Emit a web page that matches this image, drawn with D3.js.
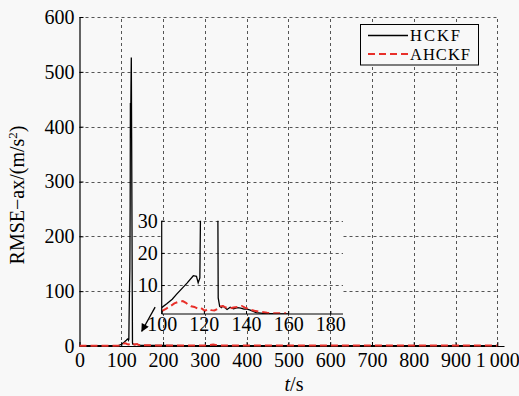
<!DOCTYPE html>
<html>
<head>
<meta charset="utf-8">
<script src="https://cdn.jsdelivr.net/npm/d3@7"></script>
<style>
  html, body { margin: 0; padding: 0; background: #f8f8f8; }
  svg { display: block; font-family: "Liberation Serif", "Times New Roman", serif; }
</style>
</head>
<body>
<svg id="chart" width="519" height="396"></svg>
<script>
// RMSE of the x-axis acceleration estimate, HCKF vs AHCKF
const tHckf = [0, 20, 40, 60, 80, 93, 96, 100, 102.4, 105, 107, 110, 112, 115, 116.5, 117.3, 118.1,
  118.6, 119.5, 120.5, 121.3, 121.8, 122.4, 123.2, 124, 124.8, 125.6, 126.3, 126.8, 127.5, 128.4,
  129, 131, 132.5, 134, 136, 137.5, 139, 140.2, 142, 144.9, 148, 152.8, 156, 160,
  200, 250, 300, 400, 500, 600, 700, 800, 900, 1000];
const hckf = [0.6, 0.5, 0.6, 0.5, 0.6, 0.8, 1.8, 3.0, 4.2, 5.6, 7.1, 9.2, 10.6, 12.9, 12.7, 10.7, 12.2,
  45, 95, 140, 260, 443, 390, 470, 526, 380, 230, 90, 6, 3.4, 3.0,
  3.5, 2.4, 3.1, 2.6, 3.0, 2.8, 2.5, 2.6, 2.2, 1.4, 1.2, 1.1, 1.0, 1.0,
  0.9, 0.8, 0.8, 0.7, 0.7, 0.7, 0.7, 0.7, 0.7, 0.7];

const tAhckf = [0, 20, 40, 60, 80, 95, 100, 102, 104, 106, 108, 110, 111.5, 112.6, 114, 115.5, 117,
  118.5, 120.5, 122, 123.5, 125, 126.5, 127.6, 129, 130.5, 132.3, 134, 136, 138, 139.5, 141.7,
  144, 146.5, 150, 153, 156, 159, 200, 250, 300, 320, 335, 400, 500, 600, 700, 800, 900, 1000];
const ahckf = [0.6, 0.5, 0.5, 0.6, 0.6, 1.0, 1.9, 2.6, 3.4, 4.3, 4.8, 5.0, 4.5, 3.9, 3.4, 3.2, 2.7,
  2.9, 2.0, 2.6, 2.2, 2.1, 2.6, 3.3, 3.5, 3.0, 2.7, 3.0, 3.2, 3.5, 3.0, 2.4,
  2.0, 1.7, 1.4, 1.2, 1.2, 1.2, 1.0, 0.9, 1.0, 2.5, 1.0, 0.9, 0.9, 0.9, 0.9, 0.9, 0.9, 0.9];

const xTicks = [0, 100, 200, 300, 400, 500, 600, 700, 800, 900, 1000];
const xTickLabels = ["0", "100", "200", "300", "400", "500", "600", "700", "800", "900", "1\u2009000"];
const yTicks = [0, 100, 200, 300, 400, 500, 600];

const insetXTicks = [100, 120, 140, 160, 180];
const insetYTicks = [10, 20, 30];

const seriesNames = ["HCKF", "AHCKF"];
const arrowFrom = [181, 71];
const arrowTo = [149, 27];

const bg = "#f8f8f8";
const gridColor = "#555";
const redColor = "#e8302a";
const tickFont = 20;

const svg = d3.select("#chart");

// Main axes
const x = d3.scaleLinear().domain([0, 1016]).range([79.5, 504]);
const y = d3.scaleLinear().domain([0, 600]).range([346, 17]);

const grid = svg.append("g").attr("stroke", gridColor).attr("stroke-width", 1)
  .attr("stroke-dasharray", "3,3").attr("fill", "none");
grid.selectAll(".gx").data(xTicks.slice(1)).join("line")
  .attr("x1", d => Math.round(x(d)) + 0.5).attr("x2", d => Math.round(x(d)) + 0.5)
  .attr("y1", y(0)).attr("y2", y(600));
grid.selectAll(".gy").data(yTicks.slice(1)).join("line")
  .attr("x1", x(0)).attr("x2", x(1000))
  .attr("y1", d => Math.round(y(d)) + 0.5).attr("y2", d => Math.round(y(d)) + 0.5);

const xAxis = d3.axisBottom(x).tickValues(xTicks).tickFormat((d, i) => xTickLabels[i])
  .tickSizeInner(-4).tickSizeOuter(0).tickPadding(7);
const yAxis = d3.axisLeft(y).tickValues(yTicks).tickSizeInner(-4).tickSizeOuter(0).tickPadding(5);

const gx = svg.append("g").attr("transform", `translate(0,${y(0)})`).call(xAxis);
const gy = svg.append("g").attr("transform", `translate(${x(0)},0)`).call(yAxis);
[gx, gy].forEach(g => {
  g.attr("font-family", null);
  g.select(".domain").attr("stroke", "#000").attr("stroke-width", 1.2);
  g.selectAll(".tick line").attr("stroke", "#000");
  g.selectAll(".tick text").attr("fill", "#000").attr("font-size", tickFont)
    .style("font-family", "'Liberation Serif', serif");
});

const line = d3.line().x(d => x(d[0])).y(d => y(d[1]));
const mainG = svg.append("g");
mainG.append("path").datum(d3.zip(tHckf, hckf)).attr("d", line)
  .attr("fill", "none").attr("stroke", "#000").attr("stroke-width", 1.3);
mainG.append("path").datum(d3.zip(tAhckf, ahckf)).attr("d", line)
  .attr("fill", "none").attr("stroke", redColor).attr("stroke-width", 2)
  .attr("stroke-dasharray", "7,4");

// Axis titles
const yt = svg.append("text")
  .attr("transform", `translate(24,${195}) rotate(-90)`)
  .attr("text-anchor", "middle").attr("font-size", 20);
yt.append("tspan").text("RMSE\u2212ax/(m/s");
yt.append("tspan").attr("dy", -7).attr("font-size", 13).text("2");
yt.append("tspan").attr("dy", 7).text(")");

const xt = svg.append("text").attr("x", 294).attr("y", 391).attr("text-anchor", "middle").attr("font-size", 20);
xt.append("tspan").attr("font-style", "italic").text("t");
xt.append("tspan").text("/s");

// Inset zoom 100–186 s
const ix = d3.scaleLinear().domain([100, 186]).range([161.7, 343]);
const iy = d3.scaleLinear().domain([1, 30]).range([314, 220.7]);

const inset = svg.append("g");
inset.append("rect").attr("x", ix(100)).attr("y", iy(30))
  .attr("width", ix(186) - ix(100)).attr("height", iy(1) - iy(30)).attr("fill", bg);

const igrid = inset.append("g").attr("stroke", gridColor).attr("stroke-width", 1)
  .attr("stroke-dasharray", "3,3");
igrid.selectAll(".igx").data(insetXTicks.slice(1)).join("line")
  .attr("x1", d => Math.round(ix(d)) + 0.5).attr("x2", d => Math.round(ix(d)) + 0.5)
  .attr("y1", iy(1)).attr("y2", iy(30));
igrid.selectAll(".igy").data(insetYTicks).join("line")
  .attr("x1", ix(100)).attr("x2", ix(186))
  .attr("y1", d => Math.round(iy(d)) + 0.5).attr("y2", d => Math.round(iy(d)) + 0.5);

svg.append("clipPath").attr("id", "insetClip").append("rect")
  .attr("x", ix(100)).attr("y", iy(30)).attr("width", ix(186) - ix(100)).attr("height", iy(1) - iy(30));

const iline = d3.line().x(d => ix(d[0])).y(d => iy(d[1]));
const ilines = inset.append("g").attr("clip-path", "url(#insetClip)");
ilines.append("path").datum(d3.zip(tHckf, hckf).filter(d => d[0] >= 95 && d[0] <= 165)).attr("d", iline)
  .attr("fill", "none").attr("stroke", "#000").attr("stroke-width", 1.3);
ilines.append("path").datum(d3.zip(tAhckf, ahckf).filter(d => d[0] >= 100 && d[0] <= 160)).attr("d", iline)
  .attr("fill", "none").attr("stroke", redColor).attr("stroke-width", 2)
  .attr("stroke-dasharray", "7,4");

const ixAxis = d3.axisBottom(ix).tickValues(insetXTicks).tickSizeInner(-3).tickSizeOuter(0).tickPadding(3);
const iyAxis = d3.axisLeft(iy).tickValues(insetYTicks).tickSizeInner(-3).tickSizeOuter(0).tickPadding(4);
const gix = inset.append("g").attr("transform", `translate(0,${iy(1)})`).call(ixAxis);
const giy = inset.append("g").attr("transform", `translate(${ix(100)},0)`).call(iyAxis);
[gix, giy].forEach(g => {
  g.attr("font-family", null);
  g.select(".domain").attr("stroke", "#000").attr("stroke-width", 1.2);
  g.selectAll(".tick line").attr("stroke", "#000");
  g.selectAll(".tick text").attr("fill", "#000").attr("font-size", tickFont)
    .style("font-family", "'Liberation Serif', serif");
});
// keep the axis ends flush
gix.select(".domain").attr("d", `M${ix(100)},0H${ix(186)}`);
giy.select(".domain").attr("d", `M0,${iy(30)}V${iy(1)}`);

// Arrow pointing from the inset to the spike region
svg.append("defs").append("marker").attr("id", "arrowHead")
  .attr("viewBox", "0 0 10 10").attr("refX", 9).attr("refY", 5)
  .attr("markerWidth", 10).attr("markerHeight", 8).attr("markerUnits", "userSpaceOnUse")
  .attr("orient", "auto")
  .append("path").attr("d", "M0,0L10,5L0,10Z").attr("fill", "#000");
svg.append("line")
  .attr("x1", x(arrowFrom[0])).attr("y1", y(arrowFrom[1]))
  .attr("x2", x(arrowTo[0])).attr("y2", y(arrowTo[1]))
  .attr("stroke", "#000").attr("stroke-width", 1.3).attr("marker-end", "url(#arrowHead)");

// Legend
const lg = svg.append("g");
lg.append("rect").attr("x", 360.5).attr("y", 24.5).attr("width", 118).attr("height", 40.5)
  .attr("fill", bg).attr("stroke", "#000").attr("stroke-width", 1);
const legendRows = [
  { name: seriesNames[0], color: "#000", dash: null, w: 1.3 },
  { name: seriesNames[1], color: redColor, dash: "7,4", w: 2 }
];
legendRows.forEach((r, i) => {
  const cy = 35.5 + i * 18.5;
  lg.append("line").attr("x1", 368).attr("x2", 408).attr("y1", cy).attr("y2", cy)
    .attr("stroke", r.color).attr("stroke-width", r.w).attr("stroke-dasharray", r.dash);
  lg.append("text").attr("x", 410).attr("y", cy).attr("dy", "0.35em")
    .attr("font-size", 16.5).attr("textLength", i === 0 ? 50 : 60).text(r.name);
});
</script>
</body>
</html>
